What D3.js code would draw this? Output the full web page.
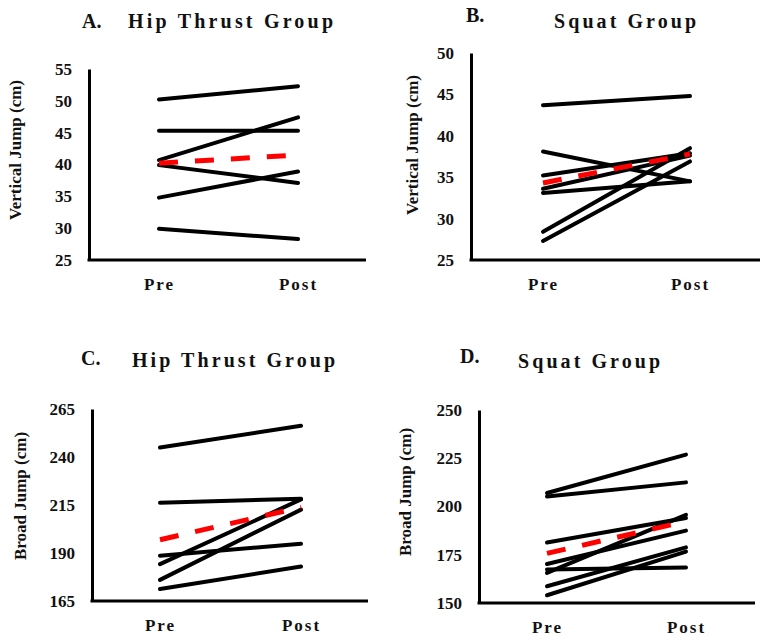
<!DOCTYPE html>
<html>
<head>
<meta charset="utf-8">
<script src="https://cdn.jsdelivr.net/npm/d3@7"></script>
<style>
  html, body { margin: 0; padding: 0; background: #fff; }
  svg { display: block; }
  text { font-family: 'Palatino Linotype', 'Book Antiqua', Palatino, 'Liberation Serif', serif; font-weight: bold; fill: #111; }
</style>
</head>
<body>
<svg id="chart" width="769" height="641"></svg>
<script>
// ---- Data ----
const timepoints = ["Pre", "Post"];

const hipVJPre  = [50.2, 45.3, 40.7, 39.9, 34.8, 29.9];
const hipVJPost = [52.3, 45.3, 47.4, 37.1, 38.9, 28.3];
const hipVJMean = [40.2, 41.5];
const vjTicksA  = [25, 30, 35, 40, 45, 50, 55];

const squatVJPre  = [43.7, 38.1, 35.2, 33.6, 33.1, 28.4, 27.3];
const squatVJPost = [44.8, 34.5, 37.9, 37.6, 34.5, 38.5, 36.9];
const squatVJMean = [34.3, 37.8];
const vjTicksB    = [25, 30, 35, 40, 45, 50];

const hipBJPre  = [244.9, 216.2, 188.6, 184.2, 176.0, 171.2];
const hipBJPost = [256.3, 218.3, 194.8, 217.9, 212.6, 183.0];
const hipBJMean = [196.9, 213.8];
const bjTicksC  = [165, 190, 215, 240, 265];

const squatBJPre  = [207.0, 205.2, 181.3, 170.2, 167.4, 165.6, 158.7, 154.0];
const squatBJPost = [226.9, 212.5, 194.0, 187.5, 168.4, 195.7, 178.8, 176.6];
const squatBJMean = [175.7, 192.3];
const bjTicksD    = [150, 175, 200, 225, 250];

// ---- Layout per panel ----
const panels = [
  { letter: "A.", title: "Hip Thrust Group", ylabel: "Vertical Jump (cm)",
    pre: hipVJPre, post: hipVJPost, mean: hipVJMean, ticks: vjTicksA,
    axisX: 89, top: 69, bottom: 260, right: 366, preX: 159, postX: 298,
    letterPos: [82, 28], titlePos: [128, 28], titleLen: 205,
    ylabPos: [15, 150] },
  { letter: "B.", title: "Squat Group", ylabel: "Vertical Jump (cm)",
    pre: squatVJPre, post: squatVJPost, mean: squatVJMean, ticks: vjTicksB,
    axisX: 471, top: 53, bottom: 260, right: 760, preX: 543, postX: 690,
    letterPos: [466, 22], titlePos: [554, 28], titleLen: 142,
    ylabPos: [412, 145] },
  { letter: "C.", title: "Hip Thrust Group", ylabel: "Broad Jump (cm)",
    pre: hipBJPre, post: hipBJPost, mean: hipBJMean, ticks: bjTicksC,
    axisX: 92, top: 409, bottom: 601, right: 368, preX: 160, postX: 301,
    letterPos: [81, 365], titlePos: [132, 367], titleLen: 203,
    ylabPos: [20, 496] },
  { letter: "D.", title: "Squat Group", ylabel: "Broad Jump (cm)",
    pre: squatBJPre, post: squatBJPost, mean: squatBJMean, ticks: bjTicksD,
    axisX: 479, top: 410, bottom: 603, right: 755, preX: 547, postX: 686,
    letterPos: [460, 363], titlePos: [518, 368], titleLen: 142,
    ylabPos: [405, 492] }
];

const svg = d3.select("#chart");

panels.forEach(p => {
  const g = svg.append("g");
  const y = d3.scaleLinear().domain(d3.extent(p.ticks)).range([p.bottom, p.top]);
  const x = d3.scalePoint().domain(timepoints).range([p.preX, p.postX]);

  // Y axis
  const yAxis = g.append("g")
    .attr("transform", `translate(${p.axisX},0)`)
    .call(d3.axisLeft(y).tickValues(p.ticks).tickSize(0).tickSizeOuter(0).tickPadding(17));
  yAxis.select(".domain").attr("stroke", "#000").attr("stroke-width", 3);
  yAxis.selectAll("text")
    .style("font-size", "17px").style("font-family", "'Liberation Serif', serif")
    .style("font-weight", "bold").attr("fill", "#111");

  // X axis line
  g.append("line")
    .attr("x1", p.axisX - 1.5).attr("x2", p.right)
    .attr("y1", p.bottom).attr("y2", p.bottom)
    .attr("stroke", "#000").attr("stroke-width", 3);

  // X axis labels
  const xAxis = g.append("g")
    .attr("transform", `translate(0,${p.bottom})`)
    .call(d3.axisBottom(x).tickSize(0).tickPadding(18));
  xAxis.select(".domain").remove();
  xAxis.selectAll("text")
    .style("font-size", "17px").style("font-family", "'Liberation Serif', serif")
    .style("font-weight", "bold").style("letter-spacing", "2px").attr("fill", "#111");

  // Individual lines
  const line = d3.line().x(d => x(d[0])).y(d => y(d[1]));
  const pairs = p.pre.map((v, i) => [["Pre", v], ["Post", p.post[i]]]);
  g.selectAll("path.ind").data(pairs).enter().append("path")
    .attr("class", "ind")
    .attr("d", line)
    .attr("fill", "none").attr("stroke", "#000").attr("stroke-width", 4)
    .attr("stroke-linecap", "round");

  // Mean line (red dashed)
  g.append("path")
    .datum([["Pre", p.mean[0]], ["Post", p.mean[1]]])
    .attr("d", line)
    .attr("fill", "none").attr("stroke", "#ff0000").attr("stroke-width", 5)
    .attr("stroke-dasharray", "19,17");

  // Titles
  g.append("text").attr("x", p.letterPos[0]).attr("y", p.letterPos[1])
    .style("font-size", "20px").text(p.letter);
  g.append("text").attr("x", p.titlePos[0]).attr("y", p.titlePos[1])
    .style("font-size", "20px")
    .attr("textLength", p.titleLen).attr("lengthAdjust", "spacing")
    .text(p.title);

  // Y label
  g.append("text")
    .attr("transform", `translate(${p.ylabPos[0]},${p.ylabPos[1]}) rotate(-90)`)
    .attr("text-anchor", "middle").attr("dy", "0.35em")
    .style("font-size", "17px")
    .text(p.ylabel);
});
</script>
</body>
</html>
